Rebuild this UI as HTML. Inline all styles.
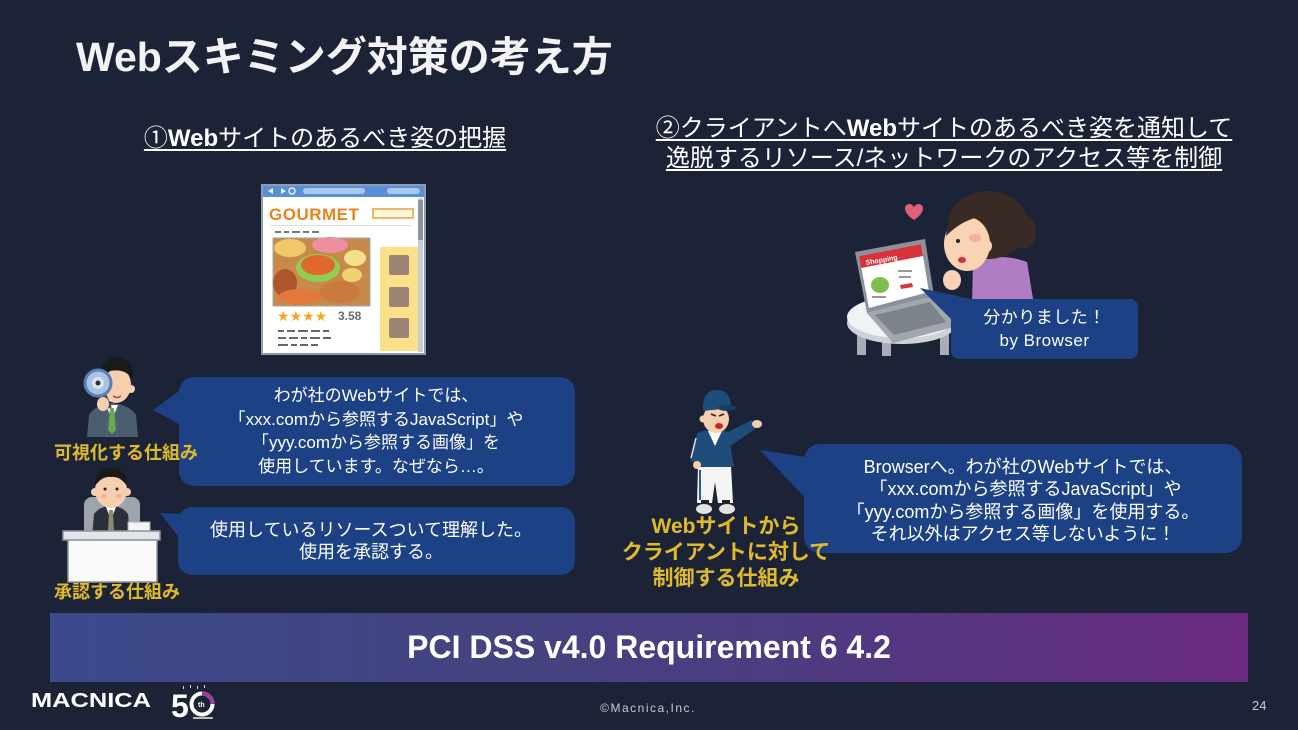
<!DOCTYPE html>
<html><head><meta charset="utf-8">
<style>
html,body{margin:0;padding:0;}
body{width:1298px;height:730px;overflow:hidden;background:#1d2337;position:relative;font-family:"Liberation Sans","Noto Sans CJK JP",sans-serif;color:#fff;}
.t{position:absolute;white-space:nowrap;}
.c{text-align:center;}
.u{text-decoration:underline;text-decoration-thickness:2px;text-underline-offset:3px;}
.y{color:#dfbb2b;font-weight:700;}
svg{position:absolute;left:0;top:0;}
</style></head><body>
<svg width="1298" height="730" viewBox="0 0 1298 730">
  <!-- Browser illustration -->
  <rect x="261" y="184" width="165" height="171" fill="#8f9bb0"/>
  <rect x="263" y="186" width="161" height="11" fill="#5a8fd6"/>
  <polygon points="268,191 273,188 273,194" fill="#e8f0fa"/>
  <polygon points="281,188 286,191 281,194" fill="#e8f0fa"/>
  <circle cx="292" cy="191" r="3" fill="none" stroke="#e8f0fa" stroke-width="1.5"/>
  <rect x="303" y="188" width="62" height="6" rx="3" fill="#a8c8f0"/>
  <rect x="387" y="188" width="33" height="6" rx="3" fill="#a8c8f0"/>
  <rect x="263" y="197" width="161" height="156" fill="#ffffff"/>
  <rect x="418" y="198" width="5" height="154" fill="#c8ccd4"/>
  <rect x="418" y="200" width="5" height="40" fill="#8d939c"/>
  <text x="269" y="220" font-family="Liberation Sans" font-weight="700" font-size="17" fill="#e8841c" letter-spacing="0.5">GOURMET</text>
  <rect x="373" y="209" width="40" height="9" fill="#fff6dc" stroke="#e8a040" stroke-width="1.5"/>
  <rect x="270" y="225" width="142" height="1" fill="#dddddd"/>
  <g fill="#777">
    <rect x="275" y="231" width="6" height="2"/><rect x="284" y="231" width="5" height="2"/><rect x="292" y="231" width="8" height="2"/><rect x="303" y="231" width="6" height="2"/><rect x="312" y="231" width="7" height="2"/>
  </g>
  <rect x="273" y="238" width="97" height="68" fill="#c88a4a" stroke="#9aa" stroke-width="1"/>
  <ellipse cx="290" cy="248" rx="16" ry="9" fill="#f2c76a"/>
  <ellipse cx="330" cy="245" rx="18" ry="8" fill="#ee8fa0"/>
  <ellipse cx="318" cy="268" rx="22" ry="14" fill="#8ccf52"/>
  <ellipse cx="318" cy="265" rx="17" ry="10" fill="#e0682a"/>
  <ellipse cx="355" cy="258" rx="11" ry="8" fill="#f7e08a"/>
  <ellipse cx="352" cy="275" rx="10" ry="7" fill="#f0d070"/>
  <ellipse cx="285" cy="283" rx="12" ry="14" fill="#b0562e"/>
  <ellipse cx="340" cy="292" rx="20" ry="11" fill="#c97a3c"/>
  <ellipse cx="300" cy="297" rx="22" ry="8" fill="#e2783a"/>
  <rect x="380" y="247" width="38" height="104" fill="#fbe08a"/>
  <rect x="389" y="255" width="20" height="20" rx="2" fill="#9c8576"/>
  <rect x="389" y="287" width="20" height="20" rx="2" fill="#9c8576"/>
  <rect x="389" y="318" width="20" height="20" rx="2" fill="#9c8576"/>
  <text x="277" y="321" font-family="DejaVu Sans" font-size="14" fill="#f5a623">★★★★</text>
  <text x="338" y="320" font-family="Liberation Sans" font-weight="700" font-size="12" fill="#6a6a72">3.58</text>
  <g fill="#666">
    <rect x="278" y="330" width="6" height="2"/><rect x="287" y="330" width="8" height="2"/><rect x="298" y="330" width="10" height="2"/><rect x="311" y="330" width="9" height="2"/><rect x="323" y="330" width="6" height="2"/>
    <rect x="278" y="337" width="8" height="2"/><rect x="289" y="337" width="9" height="2"/><rect x="301" y="337" width="6" height="2"/><rect x="310" y="337" width="10" height="2"/><rect x="323" y="337" width="8" height="2"/>
    <rect x="278" y="344" width="10" height="2"/><rect x="291" y="344" width="6" height="2"/><rect x="300" y="344" width="8" height="2"/><rect x="311" y="344" width="7" height="2"/>
  </g>

  <!-- Woman + laptop -->
  <path d="M914,220 C903,213 903,205 909,204 C912,204 914,206 914,208 C914,206 916,204 919,204 C925,205 925,213 914,220 Z" fill="#e0607a"/>
  <rect x="857" y="333" width="9" height="22" fill="#a9aeb6"/>
  <rect x="882" y="338" width="9" height="18" fill="#a9aeb6"/>
  <rect x="940" y="334" width="9" height="21" fill="#a9aeb6"/>
  <ellipse cx="902" cy="323" rx="55" ry="21" fill="#cfd3d9"/>
  <ellipse cx="902" cy="317" rx="55" ry="21" fill="#f0f2f5"/>
  <!-- woman -->
  <path d="M973,262 Q1000,252 1027,262 L1034,305 L972,305 Z" fill="#b07cc2"/>
  <ellipse cx="1025" cy="232" rx="11" ry="17" fill="#3a2a25"/>
  <ellipse cx="988" cy="225" rx="40" ry="34" fill="#3a2a25"/>
  <ellipse cx="967" cy="244" rx="23" ry="27" fill="#f9d3b4"/>
  <path d="M946,236 Q950,205 978,202 Q1000,204 1002,230 Q990,222 975,218 Q960,222 946,236 Z" fill="#3a2a25"/>
  <circle cx="985" cy="246" r="7" fill="#f9d3b4"/>
  <ellipse cx="975" cy="238" rx="6" ry="4" fill="#f5b0a0"/>
  <circle cx="958" cy="241" r="2" fill="#222"/>
  <ellipse cx="962" cy="260" rx="4" ry="3" fill="#d0323c"/>
  <ellipse cx="952" cy="280" rx="9" ry="10" fill="#f9d3b4"/>
  <!-- laptop -->
  <polygon points="867,313 934,296 958,326 893,343" fill="#a2a7ae"/>
  <polygon points="875,315 930,302 946,322 894,335" fill="#7d838b"/>
  <polygon points="855,252 925,239 934,296 867,313" fill="#8c929c"/>
  <polygon points="859,256 921,244 929,292 869,308" fill="#ffffff"/>
  <polygon points="859,256 921,244 923,256 861,268" fill="#d6333d"/>
  <text x="866" y="265" font-family="Liberation Sans" font-weight="700" font-size="7" fill="#fff" transform="rotate(-10 866 265)">Shopping</text>
  <ellipse cx="880" cy="285" rx="9" ry="8" fill="#7cc04a"/>
  <polygon points="900,285 912,283 913,287 901,289" fill="#d6333d"/>
  <g fill="#999"><rect x="898" y="270" width="14" height="2"/><rect x="899" y="276" width="12" height="2"/><rect x="872" y="296" width="14" height="2"/></g>

  <!-- Magnifier man -->
  <path d="M87,437 L89,415 Q95,405 112,403 Q130,405 136,415 L138,437 Z" fill="#4b5d70"/>
  <polygon points="106,405 118,405 112,420" fill="#ffffff"/>
  <polygon points="110,408 114,408 116,430 112,434 108,430" fill="#6aa84f"/>
  <ellipse cx="116" cy="385" rx="15" ry="18" fill="#f6cfae"/>
  <circle cx="131" cy="389" r="4" fill="#f6cfae"/>
  <path d="M100,382 Q99,358 117,357 Q135,358 133,380 Q126,368 110,371 Z" fill="#1a1a1a"/>
  <path d="M113,396 Q117,399 121,396" stroke="#b0454a" stroke-width="1.5" fill="none"/>
  <line x1="104" y1="394" x2="110" y2="408" stroke="#4a4a4a" stroke-width="4"/>
  <ellipse cx="103" cy="404" rx="6" ry="7" fill="#f6cfae"/>
  <circle cx="98" cy="383" r="13" fill="#a9c4e0" stroke="#5b7fb3" stroke-width="3"/>
  <circle cx="98" cy="383" r="6" fill="#d8e6f4"/>
  <circle cx="98" cy="383" r="2.5" fill="#333"/>

  <!-- Desk man -->
  <rect x="84" y="497" width="56" height="40" rx="8" fill="#9ea3ad"/>
  <path d="M92,537 L94,514 Q100,506 111,506 Q122,506 128,514 L130,537 Z" fill="#2b2f3b"/>
  <polygon points="106,507 116,507 111,520" fill="#ffffff"/>
  <polygon points="109,510 113,510 114,532 111,535 108,532" fill="#8a8a6a"/>
  <ellipse cx="111" cy="490" rx="16" ry="18" fill="#f6cfae"/>
  <circle cx="95" cy="492" r="4" fill="#f6cfae"/>
  <circle cx="127" cy="492" r="4" fill="#f6cfae"/>
  <path d="M95,486 Q95,468 111,468 Q127,468 127,486 Q120,476 111,477 Q102,476 95,486 Z" fill="#1a1a1a"/>
  <circle cx="105" cy="489" r="1.5" fill="#222"/><circle cx="117" cy="489" r="1.5" fill="#222"/>
  <ellipse cx="104" cy="496" rx="3" ry="2" fill="#f5b0a0"/><ellipse cx="119" cy="496" rx="3" ry="2" fill="#f5b0a0"/>
  <rect x="128" y="522" width="22" height="10" fill="#f4f4f4" stroke="#aaa" stroke-width="1"/>
  <rect x="63" y="531" width="97" height="9" fill="#e2e5ea" stroke="#8e949c" stroke-width="1.5"/>
  <rect x="68" y="540" width="89" height="42" fill="#fafafa" stroke="#8e949c" stroke-width="1.5"/>

  <!-- Coach -->
  <path d="M698,466 L731,466 L733,503 L718,503 L715,482 L712,503 L697,503 Z" fill="#f4f4f4"/>
  <line x1="700" y1="470" x2="700" y2="500" stroke="#2d5d95" stroke-width="2"/>
  <rect x="701" y="500" width="8" height="5" fill="#222"/><rect x="722" y="500" width="8" height="5" fill="#222"/>
  <ellipse cx="704" cy="509" rx="8" ry="5" fill="#e2e2e2"/>
  <ellipse cx="727" cy="509" rx="8" ry="5" fill="#e2e2e2"/>
  <path d="M697,433 Q712,427 728,432 L734,467 L695,467 Z" fill="#1f4d7b"/>
  <path d="M697,434 L690,460 L699,466 L704,440 Z" fill="#1f4d7b"/>
  <line x1="696" y1="438" x2="691" y2="458" stroke="#dfe6ef" stroke-width="1.5"/>
  <circle cx="697" cy="465" r="4" fill="#f6cfae"/>
  <path d="M724,434 L752,420 L756,428 L729,447 Z" fill="#1f4d7b"/>
  <ellipse cx="757" cy="424" rx="5" ry="4" fill="#f6cfae"/>
  <polygon points="708,431 722,431 715,446" fill="#ffffff"/>
  <ellipse cx="716" cy="419" rx="13" ry="14" fill="#f6cfae"/>
  <circle cx="703" cy="419" r="3.5" fill="#f6cfae"/>
  <path d="M703,411 Q702,390 717,390 Q731,390 731,408 Z" fill="#1d4d7b"/>
  <ellipse cx="727" cy="408" rx="9" ry="3" fill="#163f66"/>
  <path d="M711,414 L716,416 M724,414 L719,416" stroke="#222" stroke-width="1.5"/>
  <ellipse cx="719" cy="426" rx="4" ry="3" fill="#c0282c"/>

  <!-- Bubbles -->
  <g fill="#1d4185">
    <rect x="179" y="377" width="396" height="109" rx="15"/>
    <polygon points="153,410 186,386 186,428"/>
    <rect x="178" y="507" width="397" height="68" rx="14"/>
    <polygon points="160,513 186,514 186,546"/>
    <rect x="804" y="444" width="438" height="109" rx="16"/>
    <polygon points="760,450 812,458 812,505"/>
    <rect x="951" y="299" width="187" height="60" rx="8"/>
    <polygon points="920,288 975,300 952,320"/>
  </g>

  <!-- 50th logo -->
  <text x="171" y="717" font-family="Liberation Sans" font-weight="700" font-size="32" fill="#ffffff">5</text>
  <circle cx="202" cy="704" r="10.5" fill="none" stroke="#ffffff" stroke-width="4"/>
  <path d="M202,693.5 A10.5,10.5 0 0 1 212.5,704" fill="none" stroke="#a23a9a" stroke-width="4"/>
  <text x="198" y="707" font-family="Liberation Sans" font-weight="700" font-size="7" fill="#ffffff">th</text>
  <g fill="#ddd"><rect x="183" y="686" width="1" height="3"/><rect x="190" y="685" width="1" height="3"/><rect x="197" y="686" width="1" height="3"/><rect x="204" y="685" width="1" height="3"/></g>
  <rect x="193" y="717" width="20" height="2" fill="#bbb"/>
</svg>

<div class="t" style="left:76px;top:37px;font-size:41px;line-height:41px;font-weight:700;color:#f3f3f5">Webスキミング対策の考え方</div>

<div class="t c u" style="left:125px;top:126px;width:400px;font-size:24px;line-height:26px;">①<b>Web</b>サイトのあるべき姿の把握</div>
<div class="t c u" style="left:644px;top:116px;width:600px;font-size:24px;line-height:26px;">②クライアントへ<b>Web</b>サイトのあるべき姿を通知して</div>
<div class="t c u" style="left:644px;top:146px;width:600px;font-size:24px;line-height:26px;">逸脱するリソース/ネットワークのアクセス等を制御</div>

<div class="t c" style="left:176px;top:384px;width:400px;font-size:17px;line-height:23.5px;">わが社のWebサイトでは、<br>「xxx.comから参照するJavaScript」や<br>「yyy.comから参照する画像」を<br>使用しています。なぜなら…。</div>

<div class="t c" style="left:171px;top:519px;width:400px;font-size:18px;line-height:22px;">使用しているリソースついて理解した。<br>使用を承認する。</div>

<div class="t c" style="left:818px;top:456px;width:410px;font-size:18px;line-height:22.3px;">Browserへ。わが社のWebサイトでは、<br>&nbsp;「xxx.comから参照するJavaScript」や<br>「yyy.comから参照する画像」を使用する。<br>それ以外はアクセス等しないように！</div>

<div class="t c" style="left:951px;top:306px;width:187px;font-size:17px;line-height:23px;letter-spacing:0.5px;">分かりました！<br>by Browser</div>

<div class="t y" style="left:54px;top:442px;font-size:18px;line-height:22px;">可視化する仕組み</div>
<div class="t y" style="left:54px;top:581px;font-size:18px;line-height:22px;">承認する仕組み</div>
<div class="t c y" style="left:606px;top:514px;width:240px;font-size:21px;line-height:26px;">Webサイトから<br>クライアントに対して<br>制御する仕組み</div>

<div class="t c" style="left:50px;top:613px;width:1198px;height:69px;line-height:69px;font-size:32px;font-weight:700;background:linear-gradient(90deg,#3c4a8c 0%,#434480 35%,#4c3c80 60%,#5a337f 80%,#6b2a7f 100%);">PCI DSS v4.0 Requirement 6 4.2</div>

<div class="t" style="left:31px;top:690px;font-size:20px;line-height:22px;font-weight:900;letter-spacing:0px;transform:scaleX(1.27);transform-origin:left center;">MACNICA</div>
<div class="t c" style="left:560px;top:700px;width:176px;font-size:12px;line-height:16px;letter-spacing:1.5px;color:#c9cbd4;">©Macnica,Inc.</div>
<div class="t" style="left:1252px;top:698px;font-size:13px;line-height:16px;color:#c9cbd4;">24</div>
</body></html>
